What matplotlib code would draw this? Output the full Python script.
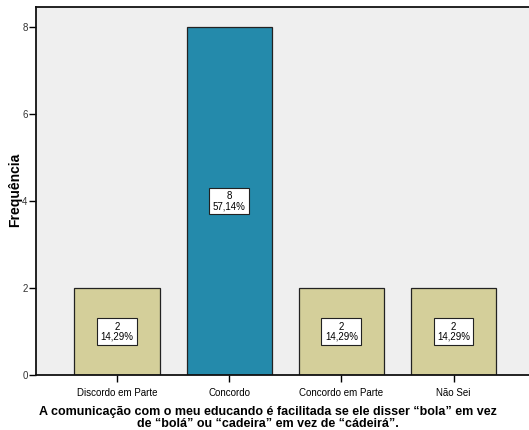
import matplotlib
matplotlib.use("Agg")
import matplotlib.pyplot as plt

categories = ["Discordo em Parte", "Concordo", "Concordo em Parte", "Não Sei"]
counts = [2, 8, 2, 2]
percents = ["14,29%", "57,14%", "14,29%", "14,29%"]
bar_colors = ["#d4cf9a", "#248aab", "#d4cf9a", "#d4cf9a"]
y_ticks = [0, 2, 4, 6, 8]
x_title = "A comunicação com o meu educando é facilitada se ele disser \u201cbola\u201d em vez\nde \u201cbolá\u201d ou \u201ccadeira\u201d em vez de \u201ccádeirá\u201d."

W, H = 529, 430
fig = plt.figure(figsize=(W / 100, H / 100), dpi=100)
plt.rcParams["font.family"] = ["Liberation Sans", "DejaVu Sans"]

ax = fig.add_axes([36 / W, 1 - 375 / H, 1 - 36 / W + 0.01, (375 - 7) / H])
ax.set_facecolor("#efefef")

x = list(range(len(categories)))
ax.bar(x, counts, width=0.76, color=bar_colors, edgecolor="#222222", linewidth=0.9, zorder=2)

for xi, c, p in zip(x, counts, percents):
    ax.text(xi, c / 2, f"{c}\n{p}", ha="center", va="center", fontsize=7, linespacing=1.0,
            zorder=3, bbox=dict(boxstyle="square,pad=0.35", facecolor="white",
                                edgecolor="#222222", linewidth=0.8))

ax.set_xlim(-0.723, 3.72)
ax.set_ylim(0, 8.46)
ax.set_yticks(y_ticks)
ax.set_xticks(x)
ax.set_xticklabels(categories, fontsize=7)
ax.tick_params(axis="y", labelsize=7, length=5, width=1.0, pad=1, labelcolor="#333333")
ax.tick_params(axis="x", length=5, width=1.0, pad=4)

for side in ["left", "bottom", "top"]:
    ax.spines[side].set_linewidth(1.3)
    ax.spines[side].set_color("#111111")
ax.spines["right"].set_visible(False)

fig.text(15 / W, 1 - 190 / H, "Frequência", rotation=90, ha="center", va="center",
         fontsize=10, fontweight="bold")
fig.text(268 / W, 1 - 418 / H, x_title, ha="center", va="center", fontsize=9,
         fontweight="bold", linespacing=0.95)

fig.savefig("out.png", dpi=100, facecolor="white")
